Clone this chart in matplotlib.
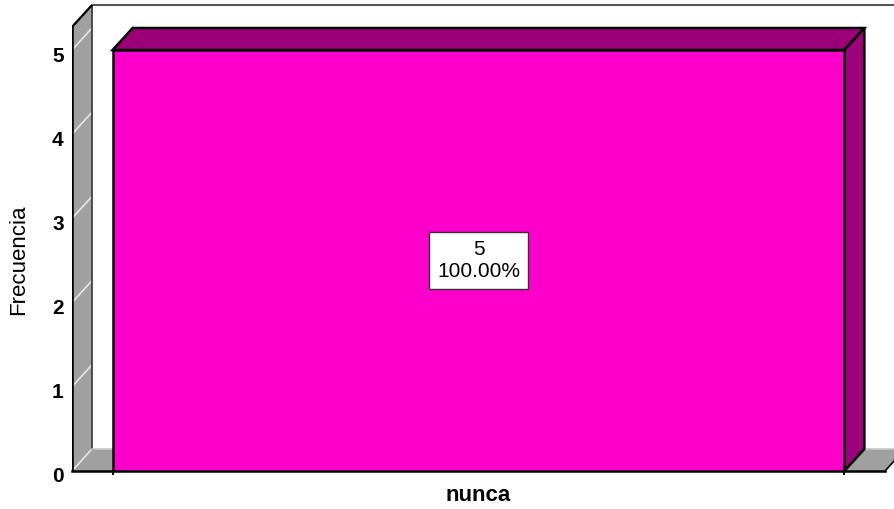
import matplotlib.pyplot as plt
from matplotlib.transforms import ScaledTranslation

# Data
categories = ['nunca']
frecuencia = [5]
porcentaje = [100.00]
yticks = [0, 1, 2, 3, 4, 5]

# colours
front_col = '#FF00CC'
dark_col = '#9C0078'
wall_col = '#A0A0A0'

W, H, DPI = 894, 509, 100
fig = plt.figure(figsize=(W / DPI, H / DPI), dpi=DPI)
plt.rcParams['font.family'] = ['Liberation Sans', 'DejaVu Sans']

# axes placed so the front plane runs from x=72px to 885px, y=471px (0) to 50px (5)
left_px, right_px, bot_px, top_px = 72, 894, 471, 5
ax = fig.add_axes([left_px / W, 1 - bot_px / H, (right_px - left_px) / W, (bot_px - top_px) / H])
px_x = 813.0          # pixels per x unit
px_y = (471 - 50) / 5  # pixels per y unit
x0 = -0.5
x1 = x0 + (right_px - left_px) / px_x
ytop = (bot_px - top_px) / px_y
ax.set_xlim(x0, x1)
ax.set_ylim(0, ytop)
for s in ax.spines.values():
    s.set_visible(False)
ax.set_facecolor('none')

dx = 20 / px_x   # depth offset
dy = 22 / px_y
wall_top = ytop - dy
bw = 0.9

# left wall
ax.fill([x0, x0, x0 + dx, x0 + dx], [0, wall_top, ytop, dy], color=wall_col, zorder=1, lw=0)
for v in yticks:
    ax.plot([x0, x0 + dx], [v, v + dy], color='#E6E6E6', lw=1.2, zorder=2)
ax.plot([x0 + dx, x0 + dx], [dy, ytop], color='#333333', lw=1.2, zorder=2)
ax.plot([x0, x0 + dx], [wall_top, ytop], color='black', lw=1.6, zorder=3)
ax.plot([x0, x0], [0, wall_top], color='black', lw=2.6, zorder=3)
# back plane top border
ax.plot([x0 + dx, x1 + 0.1], [ytop, ytop], color='#555555', lw=1.5, zorder=1, clip_on=False)

# floor
ax.fill([x0, -x0, -x0 + dx, x0 + dx], [0, 0, dy, dy], color=wall_col, lw=0, zorder=1)
ax.plot([x0 + dx, -x0 + dx], [dy, dy], color='#C8C8C8', lw=1.2, zorder=2)
ax.plot([x0, -x0], [0, 0], color='black', lw=1.8, zorder=3, clip_on=False)
ax.plot([-x0, -x0 + dx], [0, dy], color='black', lw=1.2, zorder=3)

# bars
xs = list(range(len(categories)))
bars = ax.bar(xs, frecuencia, width=bw, color=front_col, edgecolor='black', linewidth=1.8, zorder=5)
for rect, n, p in zip(bars, frecuencia, porcentaje):
    xl = rect.get_x()
    xr = xl + rect.get_width()
    h = rect.get_height()
    ax.fill([xl, xr, xr + dx, xl + dx], [h, h, h + dy, h + dy], facecolor=dark_col,
            edgecolor='black', lw=1.8, zorder=4, joinstyle='miter')
    ax.fill([xr, xr + dx, xr + dx, xr], [0, dy, h + dy, h], facecolor=dark_col,
            edgecolor='black', lw=1.8, zorder=4, joinstyle='miter')
    ax.text(rect.get_x() + rect.get_width() / 2, h / 2, f'{n}\n{p:.2f}%', ha='center', va='center',
            fontsize=15, linespacing=1.15, zorder=6,
            bbox=dict(boxstyle='square,pad=0.4', facecolor='white', edgecolor='#333333', lw=1))

# axes ticks
ax.set_yticks(yticks)
ax.set_yticklabels([str(t) for t in yticks], fontsize=15, fontweight='bold')
ax.tick_params(axis='y', length=0, pad=6)
off = ScaledTranslation(0, -4 / 100, fig.dpi_scale_trans)
for lab in ax.get_yticklabels():
    lab.set_transform(lab.get_transform() + off)

ax.set_xticks(xs)
ax.set_xticklabels(categories, fontsize=16, fontweight='bold')
ax.tick_params(axis='x', length=0, pad=10)
edges = [x - bw / 2 for x in xs] + [x + bw / 2 for x in xs]
ax.set_xticks(edges, minor=True)
ax.tick_params(axis='x', which='minor', length=3, width=1.5, color='black')

fig.text(19 / W, 1 - 260 / H, 'Frecuencia', rotation=90, ha='center', va='center', fontsize=16)

fig.savefig('out.png', dpi=DPI)
